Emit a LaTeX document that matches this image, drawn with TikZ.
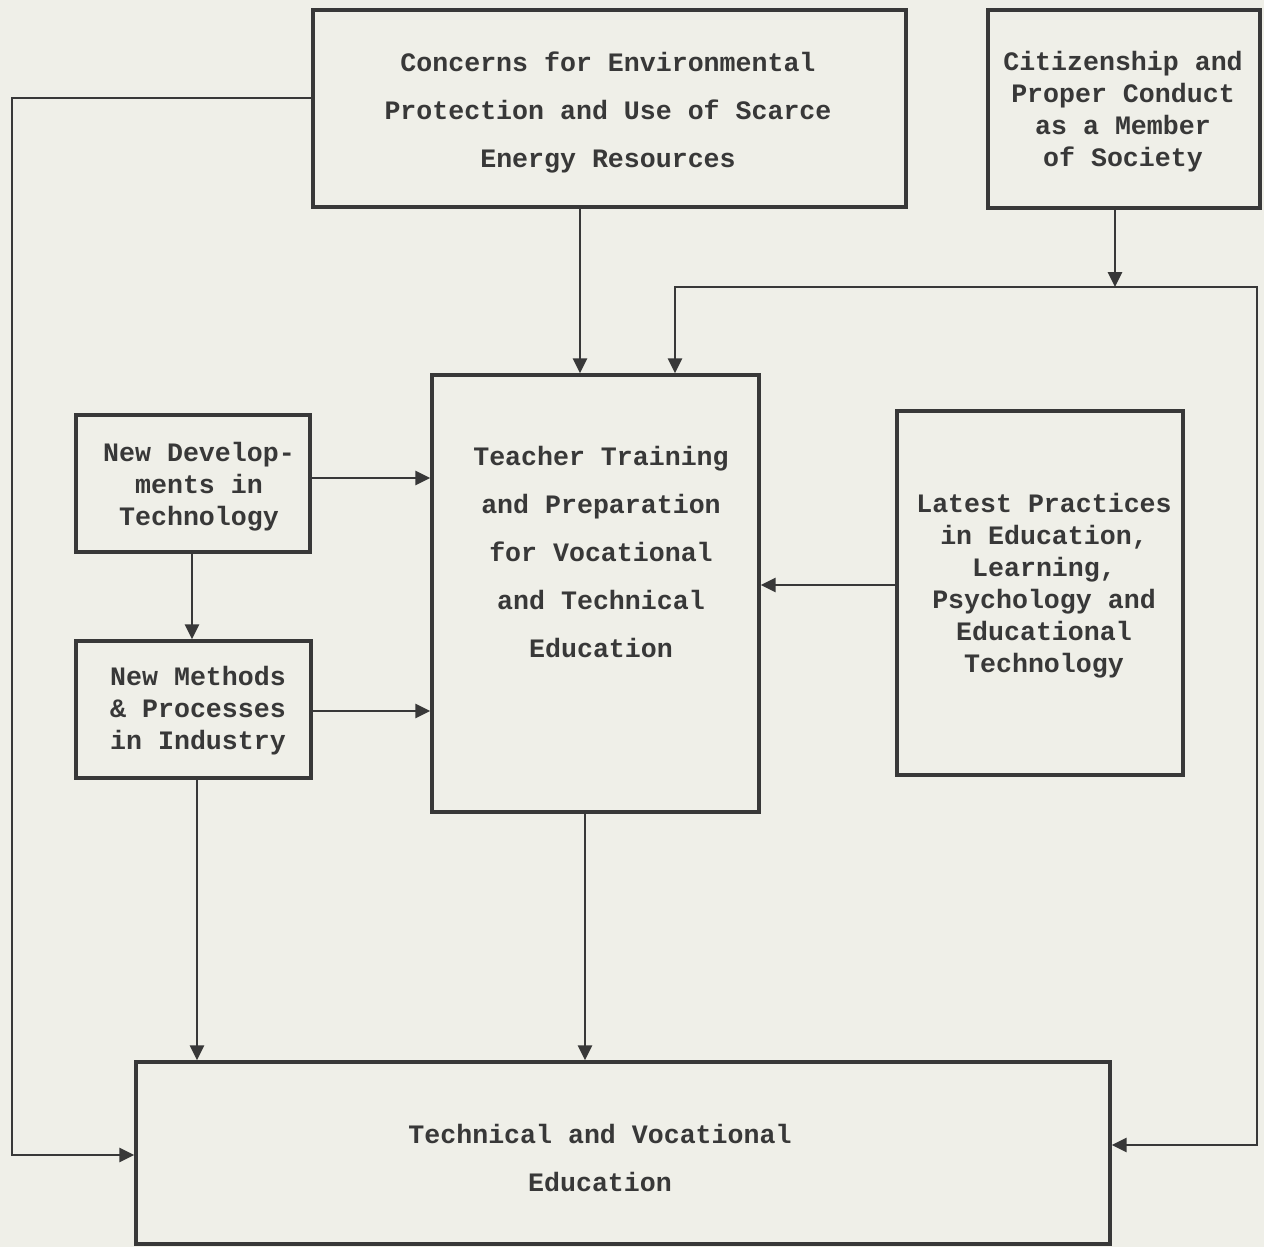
\documentclass[tikz,border=0pt]{standalone}
\usepackage{fontspec}
\setmonofont{Liberation Mono}
\usetikzlibrary{arrows.meta,fit}
\definecolor{paper}{HTML}{EFEFE8}
\definecolor{ink}{HTML}{383838}
\begin{document}
\begin{tikzpicture}[x=0.5pt,y=-0.5pt,
  box/.style={draw=ink, line width=1.6pt, inner sep=0pt},
  txt/.style={text=ink, align=center, inner sep=0pt,
    font=\ttfamily\bfseries\fontsize{13.3}{16}\selectfont},
  wide/.style={font=\ttfamily\bfseries\fontsize{13.3}{24}\selectfont},
  link/.style={draw=ink, line width=1.4pt},
  arr/.style={link, -{Triangle[length=7.5pt,width=7pt]}},
  arrs/.style={link, {Triangle[length=7.5pt,width=7pt]}-{Triangle[length=7.5pt,width=7pt]}}]

% paper
\fill[paper] (0,0) rectangle (1264,1247);

% boxes
\node[box, fit={(313,10) (906,207)}] (conc) {};
\node[box, fit={(988,10) (1260,208)}] (cit) {};
\node[box, fit={(432,375) (759,812)}] (tt) {};
\node[box, fit={(76,415) (310,552)}] (nd) {};
\node[box, fit={(76,641) (311,778)}] (nm) {};
\node[box, fit={(897,411) (1183,775)}] (lp) {};
\node[box, fit={(136,1062) (1110,1244)}] (tve) {};

% box texts
\node[txt, wide] (conc-t) at (608,112) {Concerns for Environmental\\Protection and Use of Scarce\\Energy Resources};
\node[txt] (cit-t) at (1123,112) {Citizenship and\\Proper Conduct\\as a Member\\of Society};
\node[txt, wide] (tt-t) at (601,552) {Teacher Training\\and Preparation\\for Vocational\\and Technical\\Education};
\node[txt] (nd-t) at (199,487) {New Develop-\\ments in\\Technology};
\node[txt] (nm-t) at (198,711) {New Methods\\\& Processes\\in Industry};
\node[txt] (lp-t) at (1044,586) {Latest Practices\\in Education,\\Learning,\\Psychology and\\Educational\\Technology};
\node[txt, wide] (tve-t) at (600,1158) {Technical and Vocational\\Education};

% routing points
\coordinate (lt) at (12,98);
\coordinate (lb) at (12,1155);
\coordinate (j) at (1115,287);
\coordinate (bl) at (675,287);
\coordinate (br) at (1257,287);
\coordinate (rb) at (1257,1145);

% connectors
\draw[arr] (conc.west |- lt) -- (lt) -- (lb) -- (tve.west |- lb);
\draw[arr] (conc.south -| 580,0) -- (tt.north -| 580,0);
\draw[arr] (cit.south -| j) -- (j);
\draw[arrs] (tt.north -| bl) -- (bl) -- (br) -- (rb) -- (tve.east |- rb);
\draw[arr] (nd.east |- 0,478) -- (tt.west |- 0,478);
\draw[arr] (nd.south -| 192,0) -- (nm.north -| 192,0);
\draw[arr] (nm.east |- 0,711) -- (tt.west |- 0,711);
\draw[arr] (nm.south -| 197,0) -- (tve.north -| 197,0);
\draw[arr] (tt.south -| 585,0) -- (tve.north -| 585,0);
\draw[arr] (lp.west |- 0,585) -- (tt.east |- 0,585);
\end{tikzpicture}
\end{document}
